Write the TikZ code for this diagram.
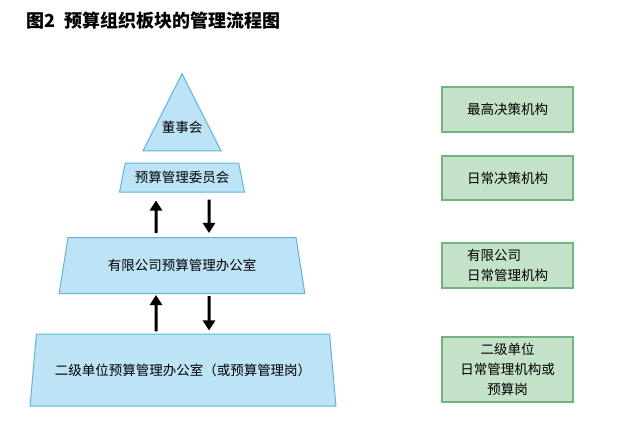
\documentclass[tikz,border=0pt]{standalone}
\usepackage{fontspec}
\usetikzlibrary{shapes.geometric, arrows.meta, positioning}
\newfontfamily\cjk{Noto Sans CJK SC}
\definecolor{pyrFill}  {RGB}{189,227,247}
\definecolor{pyrLine}  {RGB}{ 95,179,220}
\definecolor{roleFill} {RGB}{195,226,199}
\definecolor{roleLine} {RGB}{114,179,130}

\begin{document}
\begin{tikzpicture}[
  x=1pt, y=-1pt,
  %% Pyramid level style
  lvl/.style={
    trapezium, trapezium stretches=true,
    fill=pyrFill, draw=pyrLine, line width=1pt,
    inner sep=0pt, align=center,
    font=\cjk\fontsize{13.5}{20}\selectfont
  },
  %% Role box on right
  role/.style={
    rectangle, minimum width=131pt,
    fill=roleFill, draw=roleLine, line width=2pt,
    inner sep=0pt, font=\cjk\fontsize{13.5}{20}\selectfont
  },
  %% Up / down flow arrow
  farr/.style={-{Triangle[length=10pt,width=12pt]}, line width=3pt},
]
\useasboundingbox (0,0) rectangle (619,442);

%% ── Y positions (top to bottom) ────────────────────────────────────────────
\def\yA{125.5}  % board
\def\yB{177.5}  % committee
\def\yC{265.5}  % company office
\def\yD{370}    % unit office

%% ── TITLE ──────────────────────────────────────────────────────────────────
\node[anchor=west, inner sep=0pt, font=\cjk\bfseries\fontsize{18}{20}\selectfont]
  (title) at (26,21) {图2\hspace{0.5em}预算组织板块的管理流程图};

%% ── PYRAMID ────────────────────────────────────────────────────────────────
\node[isosceles triangle, shape border rotate=90,
      isosceles triangle stretches=true,
      fill=pyrFill, draw=pyrLine, line width=1pt, inner sep=0pt,
      minimum width=78pt, minimum height=77pt,
      label={[yshift=-2pt, font=\cjk\fontsize{13.5}{20}\selectfont]center:董事会}]
  (L1) at (182,\yA) {\vphantom{A}};
\node[lvl, minimum width=125pt, minimum height=29pt, trapezium angle=69]
  (L2) at (182,\yB) {预算管理委员会};
\node[lvl, minimum width=246pt, minimum height=56pt, trapezium angle=65.5]
  (L3) at (182,\yC) {有限公司预算管理办公室};
\node[lvl, minimum width=307pt, minimum height=72pt, trapezium angle=66.7]
  (L4) at (183,\yD) {二级单位预算管理办公室（或预算管理岗）};

%% ── ROLES (right) ──────────────────────────────────────────────────────────
\node[role, minimum height=45pt] (R1) at (507.5,109.5) {最高决策机构};
\node[role, minimum height=44pt] (R2) at (507.5,178) {日常决策机构};
\node[role, minimum height=45pt, align=left]
  (R3) at (507.5,265.5) {有限公司\\日常管理机构};
\node[role, minimum height=65pt, align=center]
  (R4) at (507.5,369.5) {二级单位\\日常管理机构或\\预算岗};

%% ── FLOW ARROWS ────────────────────────────────────────────────────────────
\draw[farr] ([xshift=-26pt, yshift=4pt]L3.north) -- ([xshift=-26pt, yshift=-8pt]L2.south);
\draw[farr] ([xshift=27pt, yshift=-7pt]L2.south) -- ([xshift=27pt, yshift=4pt]L3.north);
\draw[farr] ([xshift=-27pt, yshift=2pt]L4.north) -- ([xshift=-26pt, yshift=-1pt]L3.south);
\draw[farr] ([xshift=27pt, yshift=-2pt]L3.south) -- ([xshift=26pt, yshift=3pt]L4.north);

\end{tikzpicture}
\end{document}
